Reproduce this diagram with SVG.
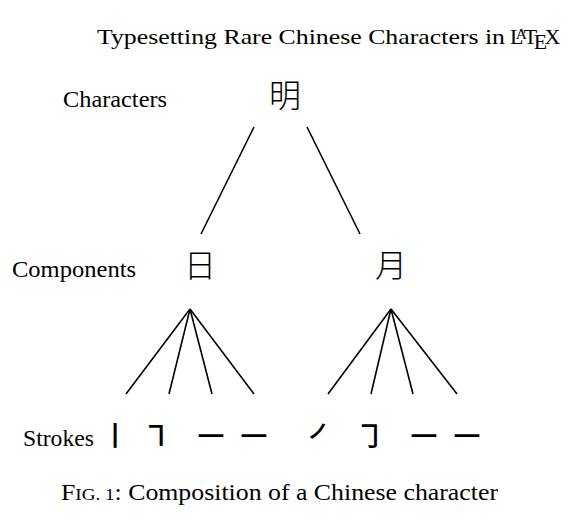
<svg xmlns="http://www.w3.org/2000/svg" width="573" height="519" viewBox="0 0 573 519">
<style>
.lbl{font-family:"Liberation Serif","Times New Roman",serif;fill:#000;font-size:23px}
.ttl{font-size:22px}
.cjk{font-family:"Noto Sans CJK SC","Noto Sans CJK JP",sans-serif;fill:#000;font-weight:300}
.big{font-size:32px}
.stk{font-size:29px;font-weight:500}
.edge{stroke:#000;stroke-width:1.6;fill:none}
</style>
<rect width="573" height="519" fill="#fff"/>
<g id="title">
<text class="lbl ttl" x="97" y="44" textLength="408" lengthAdjust="spacingAndGlyphs">Typesetting Rare Chinese Characters in</text>
<text class="lbl ttl" x="510" y="44">L<tspan dx="-7.6" dy="-5" font-size="15.5">A</tspan><tspan dx="-3.2" dy="5">T</tspan><tspan dx="-3.6" dy="5">E</tspan><tspan dx="-2.6" dy="-5">X</tspan></text>
</g>
<g id="row-labels">
<text class="lbl" x="63" y="107" textLength="104" lengthAdjust="spacingAndGlyphs">Characters</text>
<text class="lbl" x="12" y="277" textLength="124" lengthAdjust="spacingAndGlyphs">Components</text>
<text class="lbl" x="23" y="446" textLength="71" lengthAdjust="spacingAndGlyphs">Strokes</text>
</g>
<g id="node-ming"><text class="cjk big" x="285" y="107" text-anchor="middle">明</text></g>
<g id="node-ri"><text class="cjk big" x="200" y="277" text-anchor="middle">日</text></g>
<g id="node-yue"><text class="cjk big" x="391" y="277" text-anchor="middle">月</text></g>
<g id="strokes-ri">
<text class="cjk stk" x="115" y="447" text-anchor="middle">㇑</text>
<text class="cjk stk" x="156" y="447" text-anchor="middle">㇕</text>
<text class="cjk stk" x="211" y="447" text-anchor="middle">㇐</text>
<text class="cjk stk" x="254" y="447" text-anchor="middle">㇐</text>
</g>
<g id="strokes-yue">
<text class="cjk stk" x="322" y="447" text-anchor="middle">㇒</text>
<text class="cjk stk" x="370" y="447" text-anchor="middle">㇆</text>
<text class="cjk stk" x="424" y="447" text-anchor="middle">㇐</text>
<text class="cjk stk" x="467" y="447" text-anchor="middle">㇐</text>
</g>
<g id="connectors">
<line class="edge" x1="254" y1="127" x2="201" y2="234"/>
<line class="edge" x1="307" y1="127" x2="360" y2="234"/>
<line class="edge" x1="190" y1="309" x2="126" y2="394"/>
<line class="edge" x1="190" y1="309" x2="169" y2="394"/>
<line class="edge" x1="190" y1="309" x2="212" y2="394"/>
<line class="edge" x1="190" y1="309" x2="254" y2="394"/>
<line class="edge" x1="391" y1="309" x2="328" y2="394"/>
<line class="edge" x1="391" y1="309" x2="371" y2="394"/>
<line class="edge" x1="391" y1="309" x2="413" y2="394"/>
<line class="edge" x1="391" y1="309" x2="457" y2="394"/>
</g>
<g id="caption">
<text class="lbl" x="61" y="500" textLength="437" lengthAdjust="spacingAndGlyphs">F<tspan font-size="17">IG. 1</tspan>: Composition of a Chinese character</text>
</g>
</svg>
